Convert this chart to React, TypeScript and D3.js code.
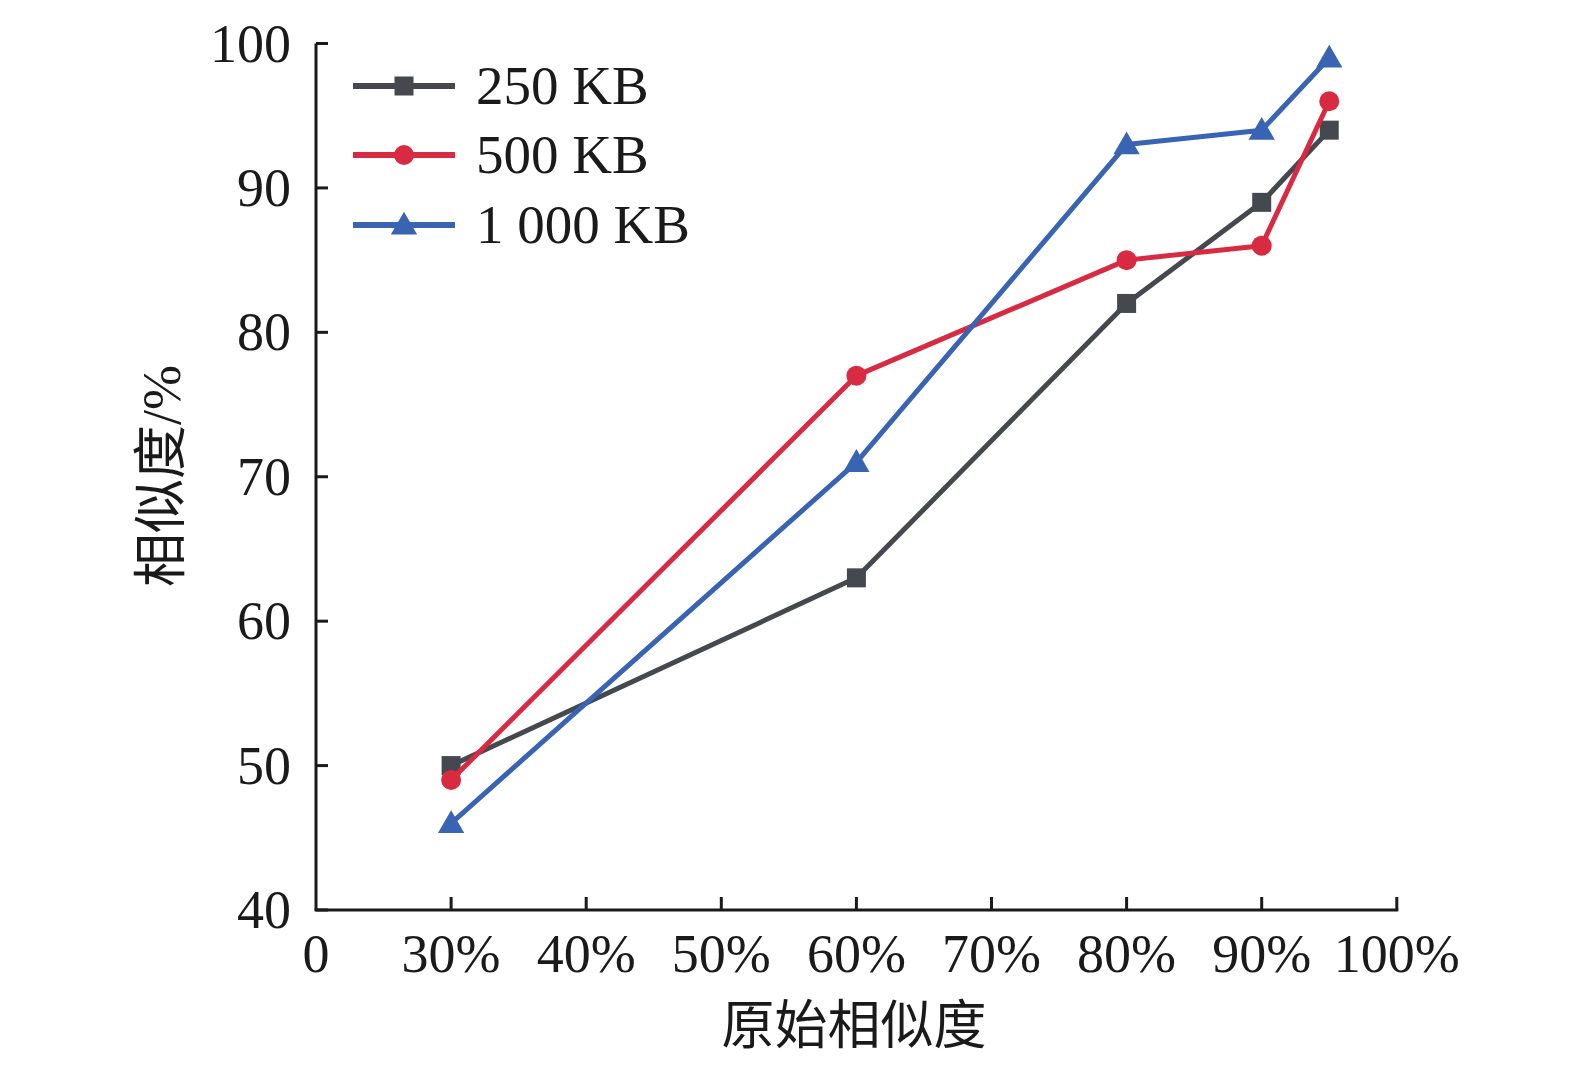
import React, { useRef, useEffect } from 'react';
import * as d3 from 'd3';

// 横轴刻度（非等距：0 后面直接跳到 30%）
const xTicks = [0, 30, 40, 50, 60, 70, 80, 90, 100];
const xTickLabels = ['0', '30%', '40%', '50%', '60%', '70%', '80%', '90%', '100%'];
const yTicks = [40, 50, 60, 70, 80, 90, 100];

const originalSim = [30, 60, 80, 90, 95];
const sim250 = [50, 63, 82, 89, 94];
const sim500 = [49, 77, 85, 86, 96];
const sim1000 = [46, 71, 93, 94, 99];

const seriesNames = ['250 KB', '500 KB', '1 000 KB'];
const seriesColors = ['#45484e', '#d82a41', '#3864b3'];
const seriesShapes = ['square', 'circle', 'triangle'];

const W = 1575;
const H = 1073;
const SERIF = '"Liberation Serif", "Times New Roman", serif';
const CJK = '"Noto Sans CJK SC", sans-serif';

export default function App() {
  const svgRef = useRef<SVGSVGElement>(null);

  useEffect(() => {
    const svg = d3.select(svgRef.current);
    svg.selectAll('*').remove();

    const x0 = 316;
    const step = 135.1;
    const xScale = d3.scaleLinear()
      .domain(xTicks)
      .range(xTicks.map((_, i) => x0 + i * step));
    const yScale = d3.scaleLinear().domain([40, 100]).range([910, 43.5]);

    const xEnd = xScale(100);
    const yBase = yScale(40);

    // 坐标轴
    const axis = svg.append('g').attr('stroke', '#1a1a1a').attr('stroke-width', 3);
    axis.append('line').attr('x1', x0).attr('x2', x0).attr('y1', yScale(100)).attr('y2', yBase);
    axis.append('line').attr('x1', x0 - 1.5).attr('x2', xEnd + 1.5).attr('y1', yBase).attr('y2', yBase);

    yTicks.forEach(t => {
      axis.append('line')
        .attr('x1', x0).attr('x2', x0 + 12)
        .attr('y1', yScale(t)).attr('y2', yScale(t));
      svg.append('text')
        .attr('x', 291).attr('y', yScale(t) + 18)
        .attr('text-anchor', 'end')
        .attr('font-family', SERIF).attr('font-size', 54).attr('fill', '#1a1a1a')
        .text(t);
    });

    xTicks.forEach((t, i) => {
      if (i > 0) {
        axis.append('line')
          .attr('x1', xScale(t)).attr('x2', xScale(t))
          .attr('y1', yBase).attr('y2', yBase - 13);
      }
      svg.append('text')
        .attr('x', xScale(t)).attr('y', 972)
        .attr('text-anchor', 'middle')
        .attr('font-family', SERIF).attr('font-size', 54).attr('fill', '#1a1a1a')
        .text(xTickLabels[i]);
    });

    // 轴标题
    svg.append('text')
      .attr('x', 854).attr('y', 1044)
      .attr('text-anchor', 'middle')
      .attr('font-family', CJK).attr('font-size', 53).attr('fill', '#1a1a1a')
      .text('原始相似度');

    const yt = svg.append('text')
      .attr('transform', 'translate(180,476) rotate(-90)')
      .attr('text-anchor', 'middle')
      .attr('font-family', CJK).attr('font-size', 54).attr('fill', '#1a1a1a');
    yt.append('tspan').text('相似度');
    yt.append('tspan').attr('font-family', SERIF).text('/%');

    const drawMarker = (g: any, shape: string, cx: number, cy: number, color: string) => {
      if (shape === 'square') {
        g.append('rect').attr('x', cx - 9.5).attr('y', cy - 9.5)
          .attr('width', 19).attr('height', 19).attr('fill', color);
      } else if (shape === 'circle') {
        g.append('circle').attr('cx', cx).attr('cy', cy).attr('r', 10).attr('fill', color);
      } else {
        const sym = d3.symbol().type(d3.symbolTriangle).size(300);
        g.append('path').attr('transform', `translate(${cx},${cy + 2})`)
          .attr('d', sym()).attr('fill', color);
      }
    };

    const allSeries = [sim250, sim500, sim1000];
    const line = d3.line<number>()
      .x((_, i) => xScale(originalSim[i]))
      .y(d => yScale(d));

    allSeries.forEach((vals, s) => {
      const g = svg.append('g');
      g.append('path')
        .datum(vals)
        .attr('fill', 'none')
        .attr('stroke', seriesColors[s])
        .attr('stroke-width', 5)
        .attr('stroke-linejoin', 'round')
        .attr('d', line);
      vals.forEach((v, i) => drawMarker(g, seriesShapes[s], xScale(originalSim[i]), yScale(v), seriesColors[s]));
    });

    // 图例
    const legendY = [86, 155, 225];
    seriesNames.forEach((name, s) => {
      const g = svg.append('g');
      g.append('line')
        .attr('x1', 353).attr('x2', 455)
        .attr('y1', legendY[s]).attr('y2', legendY[s])
        .attr('stroke', seriesColors[s]).attr('stroke-width', 6);
      drawMarker(g, seriesShapes[s], 404, legendY[s], seriesColors[s]);
      g.append('text')
        .attr('x', 476).attr('y', legendY[s] + 18)
        .attr('font-family', SERIF).attr('font-size', 55).attr('fill', '#1a1a1a')
        .text(name);
    });
  }, []);

  return (
    <svg
      ref={svgRef}
      width={W}
      height={H}
      style={{ position: 'absolute', left: 0, top: 0, background: '#fff' }}
    />
  );
}
